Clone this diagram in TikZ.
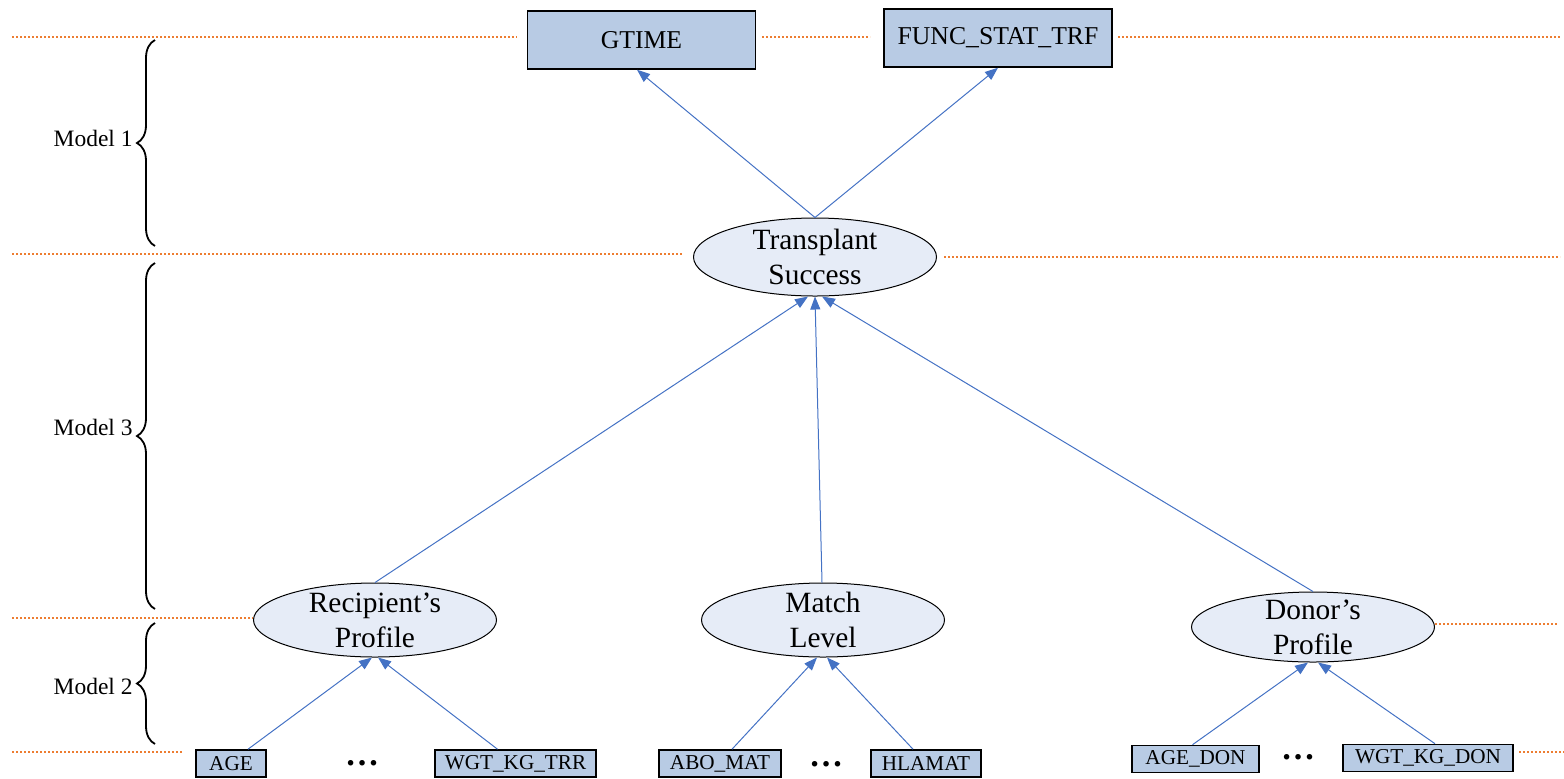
\documentclass[tikz,border=0pt]{standalone}
\usepackage{fontspec}
\setmainfont{Liberation Serif}
\usetikzlibrary{arrows.meta,shapes.geometric,decorations.pathreplacing}

\definecolor{boxfill}{HTML}{B8CBE4}
\definecolor{ovalfill}{HTML}{E6ECF7}
\definecolor{arrowblue}{HTML}{4472C4}
\definecolor{guideorange}{HTML}{ED7D31}

\begin{document}
\begin{tikzpicture}[x=0.5pt,y=-0.5pt,
  topbox/.style={draw=black, line width=0.75pt, fill=boxfill,
    minimum width=114pt, minimum height=29pt, inner sep=0pt,
    font=\fontsize{12.85}{15}\selectfont},
  varbox/.style={draw=black, line width=0.8pt, fill=boxfill,
    minimum height=13.5pt, inner sep=0pt,
    font=\fontsize{10.6}{12.7}\selectfont},
  oval/.style={ellipse, draw=black, line width=0.5pt, fill=ovalfill,
    minimum width=121.5pt, inner sep=0pt},
  ovaltext/.style={align=center, inner sep=0pt,
    font=\fontsize{14.7}{17.6}\selectfont},
  link/.style={draw=arrowblue, line width=0.5pt,
    -{Triangle[length=6.5pt,width=5pt]}},
  guide/.style={draw=guideorange, line width=0.7pt,
    dash pattern=on 0.8pt off 1.2pt},
  bracket/.style={decorate, decoration={brace, amplitude=9pt}, line width=0.9pt},
  modellabel/.style={anchor=east, inner sep=0pt,
    font=\fontsize{11.75}{14}\selectfont},
  gap/.style={inner sep=0pt, font=\bfseries\fontsize{17}{20}\selectfont}
]
\useasboundingbox (0,0) rectangle (1564,778);

% level separators
\coordinate (a1) at (12,37);   \coordinate (a2) at (517,37);
\coordinate (a3) at (762,37);  \coordinate (a4) at (870,37);
\coordinate (a5) at (1118,37); \coordinate (a6) at (1560,37);
\coordinate (b1) at (12,254);  \coordinate (b2) at (683,254);
\coordinate (b3) at (944,257); \coordinate (b4) at (1560,257);
\coordinate (c1) at (12,618);  \coordinate (c2) at (253,618);
\coordinate (d1) at (1435,624); \coordinate (d2) at (1557,624);
\coordinate (e1) at (12,752);  \coordinate (e2) at (183,752);
\coordinate (e3) at (1519,752); \coordinate (e4) at (1564,752);
\draw[guide] (a1) -- (a2) (a3) -- (a4) (a5) -- (a6);
\draw[guide] (b1) -- (b2) (b3) -- (b4);
\draw[guide] (c1) -- (c2) (d1) -- (d2);
\draw[guide] (e1) -- (e2) (e3) -- (e4);

% outcomes
\node[topbox] (gtime) at (641.5,40) {GTIME};
\node[topbox] (func) at (998,38) {FUNC\_STAT\_TRF};

% latent factors
\node[oval, minimum height=39pt] (ts) at (815,257) {};
\node[ovaltext] (tstext) at (ts) {Transplant\\Success};
\node[oval, minimum height=37pt] (rec) at (375,620) {};
\node[ovaltext] (rectext) at (rec) {Recipient’s\\Profile};
\node[oval, minimum height=37pt] (match) at (823,620) {};
\node[ovaltext] (matchtext) at (match) {Match\\Level};
\node[oval, minimum height=35pt] (donor) at (1313,627) {};
\node[ovaltext] (donortext) at (donor) {Donor’s\\Profile};

% observed variables
\node[varbox, minimum width=35pt] (age) at (231,763.5) {AGE};
\node[varbox, minimum width=80.5pt] (wgttrr) at (515.5,763.5) {WGT\_KG\_TRR};
\node[varbox, minimum width=61pt] (abo) at (720,763.5) {ABO\_MAT};
\node[varbox, minimum width=55pt] (hla) at (926,763.5) {HLAMAT};
\node[varbox, minimum width=63.5pt] (agedon) at (1195.5,759) {AGE\_DON};
\node[varbox, minimum width=85pt] (wgtdon) at (1428,758) {WGT\_KG\_DON};
\node[gap] (gap1) at (362,763) {…};
\node[gap] (gap2) at (826,764) {…};
\node[gap] (gap3) at (1298,757) {…};

% model brackets
\node[modellabel] (m1) at (133,138) {Model 1};
\node[modellabel] (m3) at (133,427) {Model 3};
\node[modellabel] (m2) at (133,686) {Model 2};
\draw[bracket] (155,246) -- (155,40);
\draw[bracket] (155,609) -- (155,263);
\draw[bracket] (155,744) -- (155,623);

% structural links
\draw[link] (ts.north) -- ([xshift=-2.25pt]gtime.south);
\draw[link] (ts.north) -- (func.south);
\draw[link] (rec.north) -- ([xshift=-3.5pt]ts.south);
\draw[link] ([xshift=-0.5pt]match.north) -- (ts.south);
\draw[link] (donor.north) -- ([xshift=3.5pt]ts.south);

% measurement links
\draw[link] ([xshift=8.5pt]age.north) -- ([xshift=-1.5pt]rec.south);
\draw[link] ([xshift=-9pt]wgttrr.north) -- ([xshift=1.5pt]rec.south);
\draw[link] ([xshift=6pt]abo.north) -- ([xshift=-3pt]match.south);
\draw[link] ([xshift=-6.5pt]hla.north) -- ([xshift=2pt]match.south);
\draw[link] ([xshift=-1.5pt]agedon.north) -- ([xshift=-2.5pt]donor.south);
\draw[link] ([xshift=3.5pt]wgtdon.north) -- ([xshift=2.5pt]donor.south);
\end{tikzpicture}
\end{document}
